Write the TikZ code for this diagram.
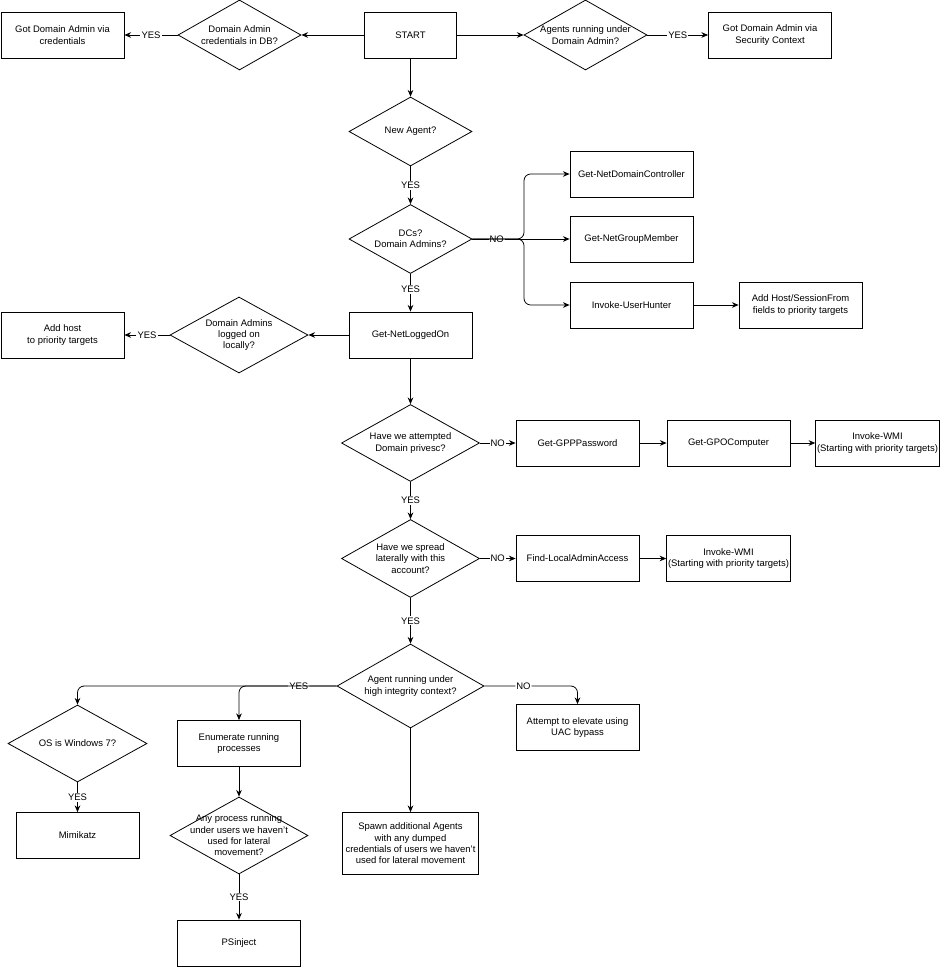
\documentclass[tikz,border=0pt]{standalone}
\usepackage{fontspec}
\setmainfont{Liberation Sans}
\usetikzlibrary{shapes.geometric,arrows.meta}
\begin{document}
\begin{tikzpicture}[x=0.75pt,y=-0.75pt,
  font=\fontsize{7.1}{8.5}\selectfont,
  line width=0.6pt,
  box/.style n args={2}{draw, rectangle, align=center, inner sep=1pt, minimum width=#1*0.75pt, minimum height=#2*0.75pt},
  sbox/.style={box={123}{46}},
  dia/.style n args={2}{draw, diamond, inner sep=0pt, minimum width=#1*0.75pt, minimum height=#2*0.75pt},
  txt/.style={align=center, inner sep=0pt},
  arr/.style={-{Stealth[length=5pt,width=4.2pt]}},
  lab/.style={fill=white, inner sep=0.8pt},
]
\useasboundingbox (0,0) rectangle (940,967);

% top row
\node[sbox] (cred) at (62.5,35) {Got Domain Admin via\\credentials};
\node[dia={123}{70}] (dbq) at (239.5,35) {};
\node[txt] (dbqt) at (dbq) {Domain Admin\\credentials in DB?};
\node[box={92}{46}] (start) at (410.5,35) {START};
\node[dia={123}{70}] (daq) at (585.5,35) {};
\node[txt] (daqt) at (daq) {Agents running under\\Domain Admin?};
\node[sbox] (sec) at (770,35) {Got Domain Admin via\\Security Context};

% center column
\node[dia={123}{69}] (newagent) at (410.5,131.5) {};
\node[txt] (newagentt) at (newagent) {New Agent?};
\node[dia={123}{69}] (dcs) at (410.5,239) {};
\node[txt] (dcst) at (dcs) {DCs?\\Domain Admins?};
\node[sbox] (gnlo) at (410.5,335) {Get-NetLoggedOn};

\node[sbox] (gndc) at (631.5,174) {Get-NetDomainController};
\node[sbox] (ngm) at (631.5,239) {Get-NetGroupMember};
\node[sbox] (iuh) at (631.5,305) {Invoke-UserHunter};
\node[sbox] (addhs) at (800.5,305) {Add Host/SessionFrom\\fields to priority targets};
\coordinate (split) at (524,239);

\node[dia={138}{76}] (dalo) at (239,335) {};
\node[txt] (dalot) at (dalo) {Domain Admins\\logged on\\locally?};
\node[sbox] (addhost) at (62.5,335) {Add host\\to priority targets};

\node[dia={138}{77}] (att) at (410.5,443) {};
\node[txt] (attt) at (att) {Have we attempted\\Domain privesc?};
\node[sbox] (gpp) at (577.5,443) {Get-GPPPassword};
\node[sbox] (gpo) at (728.5,443) {Get-GPOComputer};
\node[sbox] (wmia) at (877.5,443) {Invoke-WMI\\(Starting with priority targets)};

\node[dia={138}{78}] (spread) at (410.5,558.5) {};
\node[txt] (spreadt) at (spread) {Have we spread\\laterally with this\\account?};
\node[sbox] (fla) at (577.5,558.5) {Find-LocalAdminAccess};
\node[sbox] (wmib) at (728.5,558.5) {Invoke-WMI\\(Starting with priority targets)};

\node[dia={147}{84}] (high) at (410.5,686) {};
\node[txt] (hight) at (high) {Agent running under\\high integrity context?};
\node[sbox] (uac) at (577.5,727.5) {Attempt to elevate using\\UAC bypass};

\node[dia={139}{77}] (os) at (77.5,743.5) {};
\node[txt] (ost) at (os) {OS is Windows 7?};
\node[sbox] (mimi) at (77.5,835.5) {Mimikatz};
\node[sbox] (enum) at (239,743.5) {Enumerate running\\processes};
\node[dia={138}{77}] (anyp) at (239,835.5) {};
\node[txt] (anypt) at (anyp) {Any process running\\under users we haven't\\used for lateral\\movement?};
\node[sbox] (psi) at (239,943) {PSinject};
\node[box={136}{62}] (spawn) at (410.5,843.5) {Spawn additional Agents\\with any dumped\\credentials of users we haven't\\used for lateral movement};

% connectors
\draw[arr] (start.west) -- (dbq.east);
\draw[arr] (dbq.west) -- node[lab]{YES} (cred.east);
\draw[arr] (start.east) -- (daq.west);
\draw[arr] (daq.east) -- node[lab]{YES} (sec.west);
\draw[arr] (start.south) -- (newagent.north);
\draw[arr] (newagent.south) -- node[lab]{YES} (dcs.north);
\draw[arr] (dcs.south) -- node[lab,pos=0.42]{YES} (gnlo.north);
\draw[arr] (dcs.east) -- node[lab,pos=0.25]{NO} (ngm.west);
\draw[arr,rounded corners=5pt] (dcs.east) -- (split) |- (gndc.west);
\draw[arr,rounded corners=5pt] (dcs.east) -- (split) |- (iuh.west);
\draw[arr] (iuh.east) -- (addhs.west);
\draw[arr] (gnlo.west) -- (dalo.east);
\draw[arr] (dalo.west) -- node[lab]{YES} (addhost.east);
\draw[arr] (gnlo.south) -- (att.north);
\draw[arr] (att.east) -- node[lab]{NO} (gpp.west);
\draw[arr] (gpp.east) -- (gpo.west);
\draw[arr] (gpo.east) -- (wmia.west);
\draw[arr] (att.south) -- node[lab]{YES} (spread.north);
\draw[arr] (spread.east) -- node[lab]{NO} (fla.west);
\draw[arr] (fla.east) -- (wmib.west);
\draw[arr] (spread.south) -- node[lab]{YES} (high.north);
\draw[arr,rounded corners=5pt] (high.east) -| node[lab,pos=0.21]{NO} (uac.north);
\draw[arr,rounded corners=5pt] (high.west) -| node[lab,pos=0.073]{YES} (os.north);
\draw[arr,rounded corners=5pt] (high.west) -| (enum.north);
\draw[arr] (os.south) -- node[lab]{YES} (mimi.north);
\draw[arr] (enum.south) -- (anyp.north);
\draw[arr] (anyp.south) -- node[lab]{YES} (psi.north);
\draw[arr] (high.south) -- (spawn.north);
\end{tikzpicture}
\end{document}
